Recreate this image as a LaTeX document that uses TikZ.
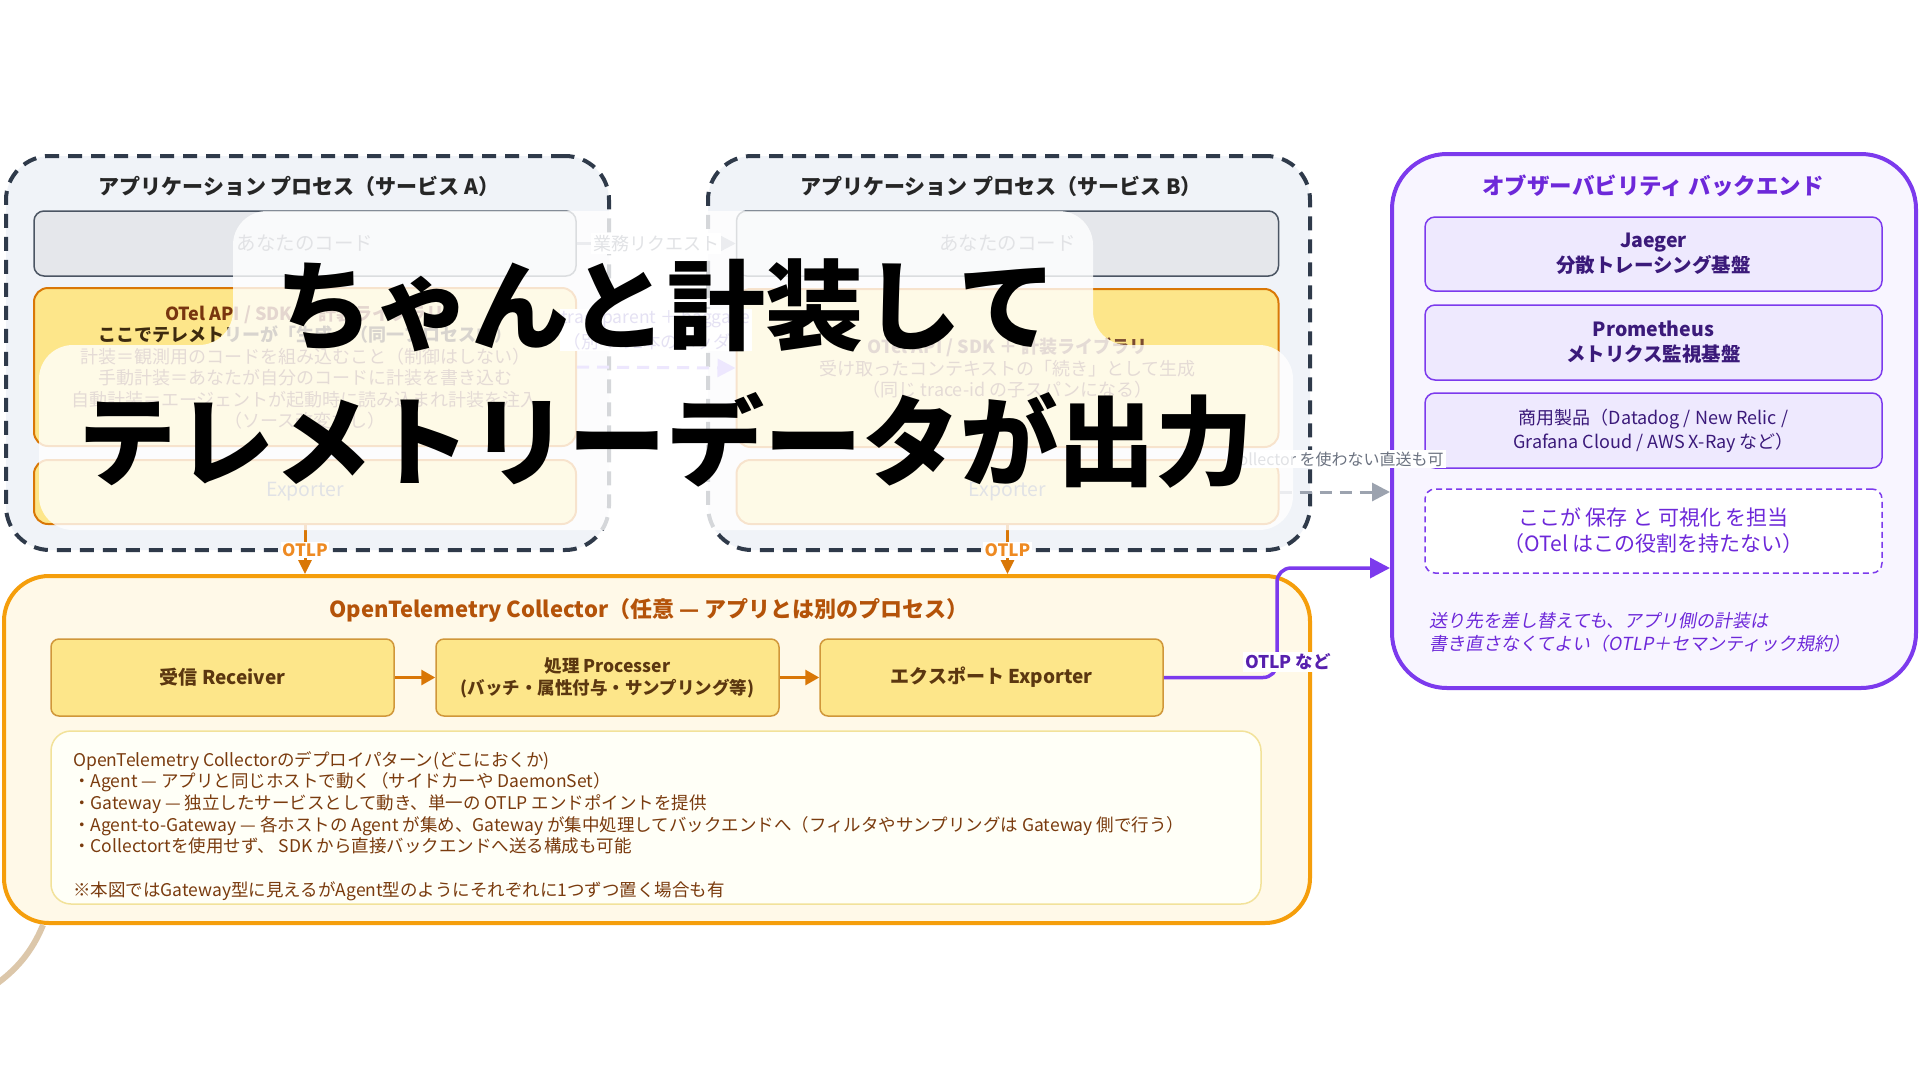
\documentclass[tikz,border=0pt]{standalone}
\usepackage{fontspec}
\setmainfont{Noto Sans CJK JP}
\newfontfamily\jpit{Noto Sans CJK JP}[FakeSlant=0.18]
\usetikzlibrary{arrows.meta}
\definecolor{svcline}{HTML}{2F3A4A}
\definecolor{svcfill}{HTML}{F0F3F8}
\definecolor{codefill}{HTML}{E5E7EB}
\definecolor{codeline}{HTML}{4B5563}
\definecolor{otelfill}{HTML}{FDE68A}
\definecolor{otelline}{HTML}{D97706}
\definecolor{cbrown}{HTML}{78350F}
\definecolor{cdark}{HTML}{3D2A0E}
\definecolor{colline}{HTML}{F59E0B}
\definecolor{colfill}{HTML}{FFF9E8}
\definecolor{coltitle}{HTML}{B45309}
\definecolor{stepline}{HTML}{D0973A}
\definecolor{steptext}{HTML}{5B3710}
\definecolor{notesline}{HTML}{F2E29A}
\definecolor{notestext}{HTML}{7A3B0E}
\definecolor{bkline}{HTML}{7C3AED}
\definecolor{bkfill}{HTML}{F8F5FF}
\definecolor{bkbox}{HTML}{EEE9FE}
\definecolor{bktext}{HTML}{3B1A7A}
\definecolor{bktitle}{HTML}{6D28D9}
\definecolor{otlporange}{HTML}{EE8A22}
\definecolor{grayarrow}{HTML}{9CA3AF}
\definecolor{graytext}{HTML}{6B7280}
\definecolor{lav}{HTML}{A78BFA}
\definecolor{lavtext}{HTML}{7C6BC4}
\definecolor{tancol}{HTML}{DCC7AA}
\tikzset{
  svcbox/.style={draw=svcline, line width=4pt, dash pattern=on 14pt off 9pt, fill=svcfill, rounded corners=44pt, inner sep=0pt},
  svctitle/.style={font=\fontsize{21}{25}\selectfont\bfseries, text=black!85},
  codebox/.style={draw=codeline, line width=1.5pt, fill=codefill, rounded corners=10pt, minimum width=542pt, minimum height=65pt, inner sep=0pt, text=graytext, font=\fontsize{19.5}{23}\selectfont},
  otelbox/.style={draw=otelline, line width=2pt, fill=otelfill, rounded corners=14pt, minimum width=542pt, inner sep=0pt, align=center},
  colbox/.style={draw=colline, line width=4pt, fill=colfill, rounded corners=45pt, inner sep=0pt},
  stepbox/.style={draw=stepline, line width=1.5pt, fill=otelfill, rounded corners=8pt, minimum width=343pt, minimum height=77pt, inner sep=0pt, align=center, text=steptext, font=\fontsize{19}{22}\selectfont\bfseries},
  notesbox/.style={draw=notesline, line width=1.5pt, fill=white!97!yellow, rounded corners=20pt, inner sep=0pt},
  bkbox/.style={draw=bkline, line width=4pt, fill=bkfill, rounded corners=55pt, inner sep=0pt},
  bkinner/.style={draw=bkline, line width=1.5pt, fill=bkbox, rounded corners=10pt, minimum width=457pt, minimum height=75pt, inner sep=0pt, align=center, text=bktext},
  bkdash/.style={draw=bkline, line width=1.5pt, dash pattern=on 6pt off 4pt, fill=white, rounded corners=10pt, minimum width=457pt, minimum height=84pt, inner sep=0pt, align=center, text=bktitle, font=\fontsize{21}{26}\selectfont},
  bizarrow/.style={draw=grayarrow, line width=2.5pt, -{Triangle[length=16pt,width=16pt]}},
  tparrow/.style={draw=lav, line width=3pt, dash pattern=on 12pt off 8pt, -{Triangle[length=18pt,width=18pt]}},
  otlparrow/.style={draw=otelline, line width=3pt, -{Triangle[length=14pt,width=13pt]}},
  otlplabel/.style={fill=white, inner sep=1.5pt, text=otlporange, font=\fontsize{17}{20}\selectfont\bfseries},
  steparrow/.style={draw=otelline, line width=3pt, -{Triangle[length=14pt,width=15pt]}},
  purparrow/.style={draw=bkline, line width=3.5pt, rounded corners=14pt, -{Triangle[length=20pt,width=20pt]}},
  directarrow/.style={draw=grayarrow, line width=3pt, dash pattern=on 12pt off 8pt, -{Triangle[length=18pt,width=18pt]}},
  bigtext/.style={font=\fontsize{98}{110}\selectfont\bfseries, text=black, inner sep=0pt, anchor=base}
}
\begin{document}
\begin{tikzpicture}[x=1pt, y=-1pt]
\fill[white] (0,0) rectangle (1920,1080);
\useasboundingbox (0,0) rectangle (1920,1080);

% ---------- Service A ----------
\node[svcbox, minimum width=603pt, minimum height=394pt] (svcA) at (307.5,353) {};
\node[svctitle] (tA) at (299,186) {アプリケーション プロセス（サービス A）};
\node[codebox] (codeA) at (305,243.5) {あなたのコード};
\node[otelbox, minimum height=158pt, text=cbrown!70!gray, font=\fontsize{18}{21.5}\selectfont] (otelA) at (305,367)
  {{\bfseries\color{cbrown}OTel API / SDK ＋ 計装ライブラリ}\\
   {\bfseries\color{cdark}ここでテレメトリーが「生成」（同一プロセス内）}\\
   計装＝観測用のコードを組み込むこと（制御はしない）\\
   手動計装＝あなたが自分のコードに計装を書き込む\\
   自動計装＝エージェントが起動時に読み込まれ計装を注入\\
   （ソース改変なし）};
\node[otelbox, minimum height=64pt, text=graytext, font=\fontsize{19.5}{23}\selectfont] (expA) at (305,492) {Exporter};

% ---------- Service B ----------
\node[svcbox, minimum width=602pt, minimum height=394pt] (svcB) at (1009,353) {};
\node[svctitle] (tB) at (1001,186) {アプリケーション プロセス（サービス B）};
\node[codebox] (codeB) at (1007.5,243.5) {あなたのコード};
\node[otelbox, minimum height=158pt, text=cbrown!70!gray, font=\fontsize{18}{21.5}\selectfont] (otelB) at (1007.5,368)
  {{\bfseries OTel API / SDK ＋ 計装ライブラリ}\\
   受け取ったコンテキストの「続き」として生成\\
   （同じ trace-id の子スパンになる）};
\node[otelbox, minimum height=64pt, text=graytext, font=\fontsize{19.5}{23}\selectfont] (expB) at (1007.5,492) {Exporter};

% ---------- Collector ----------
\node[colbox, minimum width=1306pt, minimum height=347pt] (col) at (657,749.5) {};
\node[text=coltitle, font=\fontsize{22}{26}\selectfont\bfseries] (colT) at (649,610) {OpenTelemetry Collector（任意 — アプリとは別のプロセス）};
\node[stepbox] (recv) at (222.5,677.5) {受信 Receiver};
\node[stepbox, font=\fontsize{17.5}{22}\selectfont\bfseries] (proc) at (607.5,677.5) {処理 Processer\\(バッチ・属性付与・サンプリング等)};
\node[stepbox] (expC) at (991.5,677.5) {エクスポート Exporter};
\draw[steparrow] (recv.east) -- (proc.west);
\draw[steparrow] (proc.east) -- (expC.west);
\node[notesbox, minimum width=1210pt, minimum height=173pt] (notes) at (656,817.5) {};
\node[anchor=north west, align=left, inner sep=0pt, text=notestext, font=\fontsize{17.5}{21.7}\selectfont] (notesT) at (73,751)
  {OpenTelemetry Collectorのデプロイパターン(どこにおくか)\\
   ・Agent — アプリと同じホストで動く（サイドカーや DaemonSet）\\
   ・Gateway — 独立したサービスとして動き、単一の OTLP エンドポイントを提供\\
   ・Agent-to-Gateway — 各ホストの Agent が集め、Gateway が集中処理してバックエンドへ（フィルタやサンプリングは Gateway 側で行う）\\
   ・Collectortを使用せず、 SDK から直接バックエンドへ送る構成も可能\\[21.7pt]
   ※本図ではGateway型に見えるがAgent型のようにそれぞれに1つずつ置く場合も有};

% ---------- Backend ----------
\node[bkbox, minimum width=524pt, minimum height=534pt] (bk) at (1654,421) {};
\node[text=bktitle, font=\fontsize{22.5}{26}\selectfont\bfseries] (bkT) at (1653,186) {オブザーバビリティ バックエンド};
\node[bkinner, minimum height=74pt, font=\fontsize{19.5}{25}\selectfont\bfseries] (jaeger) at (1653.5,254) {Jaeger\\分散トレーシング基盤};
\node[bkinner, font=\fontsize{19.5}{25}\selectfont\bfseries] (prom) at (1653.5,342.5) {Prometheus\\メトリクス監視基盤};
\node[bkinner, font=\fontsize{18}{24}\selectfont] (comm) at (1653.5,430.5) {商用製品（Datadog / New Relic /\\Grafana Cloud / AWS X-Ray など）};
\node[bkdash] (store) at (1653.5,531) {ここが 保存 と 可視化 を担当\\（OTel はこの役割を持たない）};
\node[anchor=north west, align=left, inner sep=0pt, text=bktitle, font=\fontsize{18}{23.5}\selectfont\jpit] (bkNote) at (1429,612)
  {送り先を差し替えても、アプリ側の計装は\\書き直さなくてよい（OTLP＋セマンティック規約）};

% ---------- connectors ----------
\draw[bizarrow] (codeA.east) -- node[fill=white, inner sep=2pt, text=graytext, font=\fontsize{18}{22}\selectfont] (bizL) {業務リクエスト} (codeB.west);
\node[fill=white, inner sep=1pt, align=center, text=lavtext, font=\fontsize{17.5}{25}\selectfont] (tp) at (656,330) {traceparent ＋ baggage\\（別々の2本のヘッダ）};
\draw[tparrow] (otelA.east) -- (otelB.west);

\draw[otlparrow] (expA.south) -- (expA.south |- col.north);
\node[otlplabel] (otlpA) at (305,550) {OTLP};
\draw[otlparrow] (expB.south) -- (expB.south |- col.north);
\node[otlplabel] (otlpB) at (1007.5,550) {OTLP};

\coordinate (pturn) at (1277,568);
\draw[purparrow] (expC.east) -| (pturn) -- (pturn -| bk.west);
\node[fill=white, inner sep=2pt, text=bktitle!80!black, font=\fontsize{17.5}{20}\selectfont\bfseries] (otlpN) at (1288,662) {OTLP など};

\draw[directarrow] (expB.east) -- (expB.east -| bk.west);
\node[fill=white, inner sep=2pt, text=graytext, font=\fontsize{16}{20}\selectfont] (directL) at (1336,459) {Collector を使わない直送も可};

\draw[tancol, line width=6pt] (43,925) .. controls (32,952) and (16,970) .. (-5,985);

% ---------- overlay ----------
\fill[white, fill opacity=0.8, rounded corners=34pt]
  (233,211) -- (1093,211) -- (1093,345) -- (1293,345) -- (1293,530) -- (39,530) -- (39,345) -- (233,345) -- cycle;

\node[bigtext] (big1) at (666,342) {ちゃんと計装して};
\node[bigtext] (big2) at (666,478) {テレメトリーデータが出力};
\end{tikzpicture}
\end{document}
